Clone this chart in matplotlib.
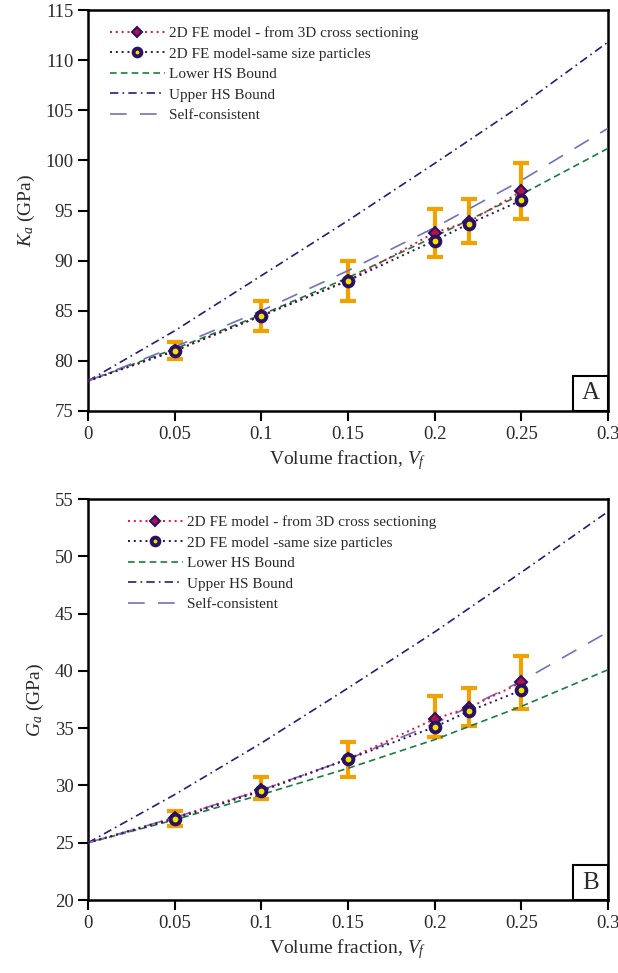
import matplotlib
matplotlib.use('Agg')
import matplotlib.pyplot as plt
from matplotlib.patches import Rectangle

plt.rcParams['font.family'] = ['Liberation Serif', 'DejaVu Serif']
plt.rcParams['mathtext.fontset'] = 'custom'
plt.rcParams['mathtext.rm'] = 'Liberation Serif'
plt.rcParams['mathtext.it'] = 'Liberation Serif:italic'

# shared x values
vf_bound = [0.0, 0.05, 0.1, 0.15, 0.2, 0.25, 0.3]
vf_fe = [0.0, 0.05, 0.1, 0.15, 0.2, 0.22, 0.25]

# panel A: bulk modulus K_a (GPa)
ka_upper = [78.0, 83.0, 88.5, 94.0, 99.7, 105.5, 111.8]
ka_lower = [78.0, 81.2, 84.6, 88.3, 92.4, 96.6, 101.2]
ka_self = [78.0, 81.4, 85.0, 89.0, 93.3, 98.0, 103.2]
ka_fe3d = [78.0, 81.0, 84.5, 88.0, 92.8, 93.9, 96.9]
ka_same = [78.0, 81.0, 84.5, 88.0, 92.0, 93.7, 96.0]
ka_err_lo = [None, 80.2, 83.0, 86.0, 90.4, 91.8, 94.2]
ka_err_hi = [None, 81.9, 86.0, 90.0, 95.2, 96.1, 99.7]

# panel B: shear modulus G_a (GPa)
ga_upper = [25.0, 29.2, 33.7, 38.5, 43.4, 48.6, 53.9]
ga_lower = [25.0, 27.0, 29.2, 31.5, 34.0, 36.9, 40.1]
ga_self = [25.0, 27.2, 29.6, 32.3, 35.4, 39.1, 43.4]
ga_fe3d = [25.0, 27.2, 29.6, 32.3, 35.8, 36.8, 39.0]
ga_same = [25.0, 27.1, 29.5, 32.3, 35.1, 36.5, 38.3]
ga_err_lo = [None, 26.5, 28.8, 30.7, 34.2, 35.2, 36.7]
ga_err_hi = [None, 27.8, 30.7, 33.8, 37.8, 38.5, 41.3]

C_RED = '#e8103c'
C_NAVY = '#2a1262'
C_GREEN = '#1b7d3c'
C_UPPER = '#2f1a70'
C_SELF = '#7272b8'
C_ERR = '#f2a100'
C_TXT = '#2a2a2a'

fig = plt.figure(figsize=(6.18, 9.73), dpi=100)
ax_a = fig.add_axes([0.1424, 0.5776, 0.8414, 0.4121])
ax_b = fig.add_axes([0.1424, 0.0750, 0.8414, 0.4121])


def draw_panel(ax, upper, lower, selfc, fe3d, same, elo, ehi, ylim, yticks,
               ylabel, tag, same_label, leg_anchor):
    # error bars
    ex = vf_fe[1:]
    ey = [(l + h) / 2 for l, h in zip(elo[1:], ehi[1:])]
    eh = [(h - l) / 2 for l, h in zip(elo[1:], ehi[1:])]
    ax.errorbar(ex, ey, yerr=eh, fmt='none', ecolor=C_ERR, elinewidth=3,
                capsize=6, capthick=3, zorder=2)

    ax.plot(vf_fe, fe3d, linestyle=(0, (1, 2)), color=C_RED, lw=1.4,
            marker='D', markevery=list(range(1, len(vf_fe))), ms=6,
            mfc='#b0124a', mec=C_NAVY, mew=1.5, zorder=4,
            label='2D FE model - from 3D cross sectioning')
    ax.plot(vf_fe, same, linestyle=(0, (1, 2)), color=C_NAVY, lw=1.4,
            marker='o', markevery=list(range(1, len(vf_fe))), ms=7,
            mfc='#f4e400', mec=C_NAVY, mew=2.8, zorder=5,
            label=same_label)
    ax.plot(vf_bound, lower, linestyle=(0, (4, 2.5)), color=C_GREEN, lw=1.2,
            zorder=3, label='Lower HS Bound')
    ax.plot(vf_bound, upper, linestyle=(0, (5, 2.5, 1, 2.5)), color=C_UPPER,
            lw=1.2, zorder=3, label='Upper HS Bound')
    ax.plot(vf_bound, selfc, linestyle=(0, (10, 8)), color=C_SELF, lw=1.2,
            zorder=3, label='Self-consistent')

    ax.set_xlim(0, 0.3)
    ax.set_ylim(*ylim)
    ax.set_xticks([0, 0.05, 0.1, 0.15, 0.2, 0.25, 0.3])
    ax.set_xticklabels(['0', '0.05', '0.1', '0.15', '0.2', '0.25', '0.3'])
    ax.set_yticks(yticks)
    ax.tick_params(direction='out', length=7, width=1.5, labelsize=13.5,
                   colors='black', labelcolor=C_TXT)
    for sp in ax.spines.values():
        sp.set_linewidth(1.8)
        sp.set_color('black')
    ax.set_xlabel('Volume fraction, $V_f$', fontsize=14, color=C_TXT,
                  labelpad=4)
    ax.set_ylabel(ylabel, fontsize=14, color=C_TXT, labelpad=6)

    leg = ax.legend(loc='upper left', bbox_to_anchor=leg_anchor, frameon=False,
                    fontsize=11, handlelength=3.6, handletextpad=0.3,
                    labelspacing=0.45, borderaxespad=0, markerscale=0.8)
    for t in leg.get_texts():
        t.set_color(C_TXT)

    # panel tag box sitting in the bottom-right corner
    bw, bh = 35 / 520, 35 / 401
    ax.add_patch(Rectangle((1 - bw, 0), bw, bh, transform=ax.transAxes,
                           fc='white', ec='black', lw=1.5, zorder=6,
                           clip_on=False))
    ax.text(1 - bw / 2, bh / 2, tag, transform=ax.transAxes, ha='center',
            va='center', fontsize=18, color=C_TXT, zorder=7)


draw_panel(ax_a, ka_upper, ka_lower, ka_self, ka_fe3d, ka_same,
           ka_err_lo, ka_err_hi, (75, 115), list(range(75, 116, 5)),
           '$K_a$ (GPa)', 'A', '2D FE model-same size particles',
           (0.03, 0.975))
draw_panel(ax_b, ga_upper, ga_lower, ga_self, ga_fe3d, ga_same,
           ga_err_lo, ga_err_hi, (20, 55), list(range(20, 56, 5)),
           '$G_a$ (GPa)', 'B', '2D FE model -same size particles',
           (0.065, 0.975))

fig.savefig('out.png', dpi=100, facecolor='white')
